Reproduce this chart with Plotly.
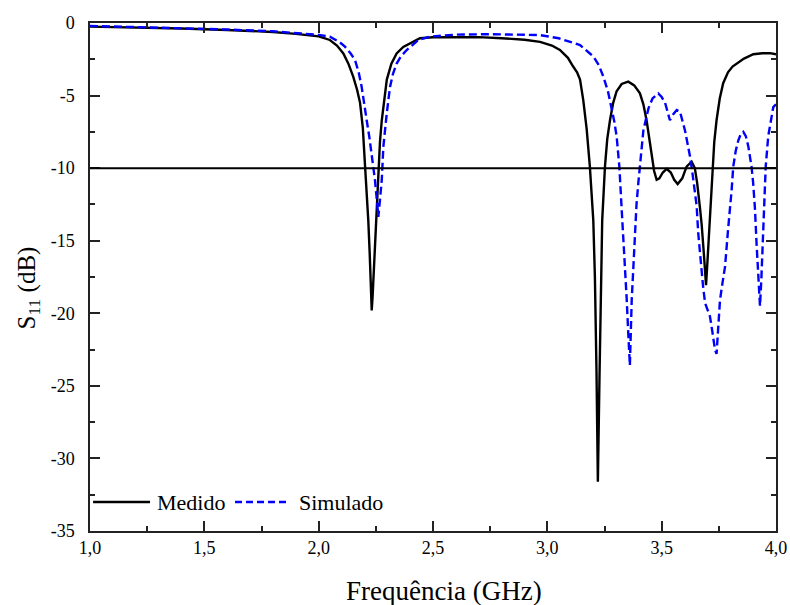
import plotly.graph_objects as go

# Measured (Medido)
freq_med = [1.00, 1.20, 1.40, 1.60, 1.80, 1.90, 2.00, 2.049, 2.08, 2.108, 2.13, 2.151, 2.168, 2.181, 2.193,
            2.203, 2.211, 2.217, 2.223, 2.228, 2.232, 2.236, 2.239, 2.245, 2.251, 2.256, 2.261, 2.268, 2.276,
            2.287, 2.298, 2.318, 2.341, 2.37, 2.399, 2.443, 2.50, 2.60, 2.70, 2.80, 2.90, 2.968, 3.02, 3.055,
            3.09, 3.113, 3.13, 3.143, 3.157, 3.172, 3.186, 3.201, 3.208, 3.215, 3.221, 3.228, 3.234, 3.240,
            3.252, 3.262, 3.274, 3.288, 3.303, 3.325, 3.354, 3.38, 3.405, 3.42, 3.434, 3.446, 3.456, 3.467,
            3.478, 3.49, 3.505, 3.522, 3.54, 3.555, 3.570, 3.59, 3.609, 3.631, 3.645, 3.655, 3.668, 3.675,
            3.685, 3.694, 3.70, 3.707, 3.713, 3.719, 3.723, 3.73, 3.74, 3.754, 3.769, 3.79, 3.81, 3.828,
            3.86, 3.901, 3.94, 3.974, 4.00]
s11_med = [-0.25, -0.30, -0.38, -0.48, -0.62, -0.75, -0.92, -1.17, -1.55, -2.1, -2.8, -3.7, -4.6, -5.5, -7.2,
           -9.9, -11.8, -13.6, -15.8, -17.7, -19.8, -18.8, -17.7, -15.5, -13.6, -11.7, -9.9, -8.2, -6.7,
           -5.1, -3.9, -2.8, -2.1, -1.65, -1.4, -1.05, -0.98, -0.95, -0.97, -1.05, -1.15, -1.3, -1.55, -1.86,
           -2.4, -3.0, -3.4, -3.9, -5.3, -7.3, -9.9, -13.6, -17.5, -24.0, -31.6, -24.5, -17.5, -13.6,
           -9.9, -8.0, -6.7, -5.5, -4.7, -4.2, -4.04, -4.3, -4.85, -5.6, -6.7, -8.0, -9.0, -10.2,
           -10.8, -10.7, -10.3, -10.05, -10.3, -10.8, -11.1, -10.7, -9.9, -9.56, -10.0, -11.0, -12.8, -13.9,
           -16.0, -18.06, -16.5, -14.5, -12.8, -11.2, -9.9, -8.2, -6.7, -5.2, -4.15, -3.4, -3.0, -2.8,
           -2.45, -2.15, -2.08, -2.08, -2.15]

# Simulated (Simulado)
freq_sim = [1.00, 1.20, 1.40, 1.60, 1.80, 1.90, 2.00, 2.049, 2.09, 2.115, 2.14, 2.159, 2.175, 2.188, 2.20,
            2.21, 2.222, 2.232, 2.246, 2.255, 2.261, 2.268, 2.276, 2.283, 2.29, 2.298, 2.312, 2.325, 2.341,
            2.36, 2.385, 2.436, 2.487, 2.60, 2.749, 2.85, 2.924, 2.968, 3.05, 3.099, 3.143, 3.186, 3.201,
            3.225, 3.245, 3.265, 3.281, 3.293, 3.303, 3.31, 3.315, 3.325, 3.333, 3.34, 3.347, 3.354, 3.361,
            3.369, 3.376, 3.383, 3.39, 3.398, 3.405, 3.42, 3.442, 3.46, 3.485, 3.50, 3.515, 3.528, 3.536,
            3.55, 3.566, 3.58, 3.592, 3.602, 3.613, 3.624, 3.635, 3.646, 3.653, 3.66, 3.672, 3.682, 3.69,
            3.70, 3.711, 3.722, 3.733, 3.74, 3.748, 3.755, 3.766, 3.777, 3.79, 3.80, 3.806, 3.813, 3.824,
            3.835, 3.846, 3.857, 3.868, 3.879, 3.887, 3.893, 3.90, 3.908, 3.915, 3.922, 3.93, 3.936, 3.941,
            3.947, 3.955, 3.966, 3.977, 3.988, 4.00]
s11_sim = [-0.20, -0.27, -0.35, -0.45, -0.57, -0.68, -0.82, -0.94, -1.3, -1.63, -2.1, -2.55, -3.4, -4.4, -5.5,
           -6.7, -7.9, -9.0, -10.8, -12.3, -13.35, -12.2, -10.8, -8.5, -7.2, -6.2, -4.4, -3.5, -2.8,
           -2.3, -1.86, -1.17, -0.94, -0.80, -0.77, -0.78, -0.80, -0.83, -1.05, -1.29, -1.52, -2.1, -2.3,
           -2.9, -3.7, -4.7, -5.8, -6.8, -7.8, -9.0, -9.9, -12.8, -14.8, -16.8, -19.0, -21.4, -23.6,
           -19.1, -16.8, -14.3, -12.5, -11.0, -9.9, -7.4, -5.9, -5.2, -4.85, -5.1, -5.5, -6.3, -6.7,
           -6.3, -6.0, -6.1, -6.8, -7.4, -8.3, -9.2, -10.4, -11.7, -12.6, -14.5, -16.8, -18.3, -19.3,
           -19.8, -20.2, -21.3, -22.5, -22.8, -21.0, -19.1, -17.9, -16.8, -14.3, -12.7, -11.5, -9.9, -8.8,
           -8.1, -7.65, -7.5, -7.8, -8.5, -9.2, -9.9, -11.0, -12.8, -15.2, -17.5, -19.5, -17.6, -15.6,
           -12.2, -9.9, -7.8, -6.7, -5.8, -5.6]

x_tickvals = [1.0, 1.5, 2.0, 2.5, 3.0, 3.5, 4.0]
x_ticktext = ["1,0", "1,5", "2,0", "2,5", "3,0", "3,5", "4,0"]
y_tickvals = [0, -5, -10, -15, -20, -25, -30, -35]
y_ticktext = ["0", "-5", "-10", "-15", "-20", "-25", "-30", "-35"]
threshold_db = -10
legend_names = ["Medido", "Simulado"]
x_title = "Frequência (GHz)"
y_title = "S<sub>11</sub> (dB)"

FONT = "'Liberation Serif', 'Times New Roman', Times, serif"
AX = "#222222"

fig = go.Figure()
fig.add_trace(go.Scatter(x=freq_med, y=s11_med, mode="lines", name=legend_names[0],
                         line=dict(color="black", width=2.4), showlegend=False))
fig.add_trace(go.Scatter(x=freq_sim, y=s11_sim, mode="lines", name=legend_names[1],
                         line=dict(color="#0000ff", width=2.4, dash="8px,4px"), showlegend=False))

fig.add_shape(type="line", xref="paper", yref="y", x0=0, x1=1, y0=threshold_db, y1=threshold_db,
              line=dict(color="black", width=2))

# manual legend (bottom-left, inside plot)
ly = 0.057
fig.add_shape(type="line", xref="paper", yref="paper", x0=0.0045, x1=0.0875, y0=ly, y1=ly,
              line=dict(color="black", width=2.4))
fig.add_shape(type="line", xref="paper", yref="paper", x0=0.2114, x1=0.2872, y0=ly, y1=ly,
              line=dict(color="#0000ff", width=2.4, dash="7px,4px"))
fig.add_annotation(xref="paper", yref="paper", x=0.0948, y=ly, text=legend_names[0], showarrow=False,
                   xanchor="left", yanchor="middle", font=dict(family=FONT, size=22, color="black"))
fig.add_annotation(xref="paper", yref="paper", x=0.3017, y=ly, text=legend_names[1], showarrow=False,
                   xanchor="left", yanchor="middle", font=dict(family=FONT, size=22, color="black"))

# axis titles
fig.add_annotation(xref="paper", yref="paper", x=0.516, y=-0.118, text=x_title, showarrow=False,
                   xanchor="center", yanchor="middle", font=dict(family=FONT, size=27, color="black"))
fig.add_annotation(xref="paper", yref="paper", x=-0.09, y=0.478, text=y_title, showarrow=False,
                   textangle=-90, xanchor="center", yanchor="middle",
                   font=dict(family=FONT, size=25, color="black"))

fig.update_layout(
    width=790, height=605,
    margin=dict(l=90, r=14, t=23, b=74),
    paper_bgcolor="white", plot_bgcolor="white",
    font=dict(family=FONT, color="black"),
    showlegend=False,
)
fig.update_xaxes(
    range=[1.0, 4.0], tickvals=x_tickvals, ticktext=x_ticktext,
    showgrid=False, zeroline=False, showline=True, linecolor=AX, linewidth=1.5,
    mirror="allticks", ticks="inside", ticklen=10, tickwidth=1.5, tickcolor=AX,
    minor=dict(dtick=0.25, tick0=1.0, ticks="inside", ticklen=5, tickwidth=1.5, tickcolor=AX, showgrid=False),
    tickfont=dict(family=FONT, size=18, color="black"),
    automargin=False,
)
fig.update_yaxes(
    range=[-35, 0], tickvals=y_tickvals, ticktext=y_ticktext,
    showgrid=False, zeroline=False, showline=True, linecolor=AX, linewidth=1.5,
    mirror="allticks", ticks="inside", ticklen=10, tickwidth=1.5, tickcolor=AX,
    minor=dict(dtick=2.5, tick0=0, ticks="inside", ticklen=5, tickwidth=1.5, tickcolor=AX, showgrid=False),
    tickfont=dict(family=FONT, size=18, color="black"),
    ticklabelstandoff=10,
    automargin=False,
)

# remove the default 8px page margin so the figure fills the 790x605 window exactly
fig.write_html("out.html", config=dict(displayModeBar=False),
               post_script="document.body.style.margin='0px';document.body.style.overflow='hidden';")
